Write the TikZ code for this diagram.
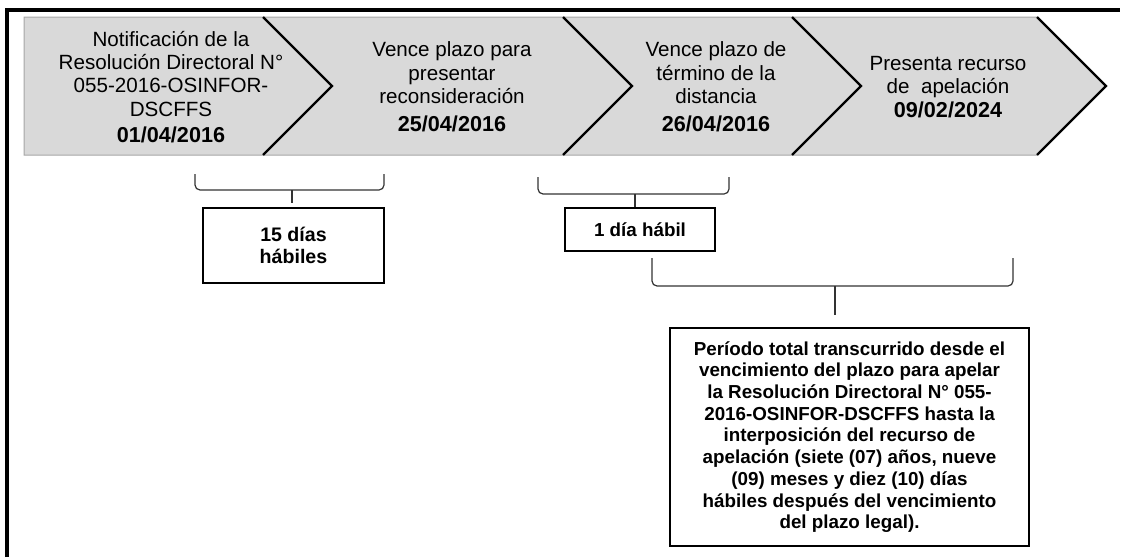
\documentclass[tikz,border=0pt]{standalone}
\usepackage{fontspec}
\setmainfont{Liberation Sans}
\usepackage{xcolor}
\usetikzlibrary{positioning}

\definecolor{grisbanda}{HTML}{D9D9D9}
\definecolor{bordebanda}{HTML}{A6A6A6}

\newcommand{\fecha}[1]{{\bfseries\fontsize{10.8}{11.6}\selectfont #1}}

\begin{document}
\begin{tikzpicture}[
        x=0.5pt, y=-0.5pt,
        font=\fontsize{10.3}{11.6}\selectfont,
        etapa/.style={align=center, inner sep=0pt},
        caja/.style={draw, line width=1pt, align=center, inner sep=0pt,
            font=\bfseries\fontsize{9.4}{10.85}\selectfont},
        punta/.style={line width=1.2pt, line join=miter},
        llave/.style={draw=black!80, line width=0.6pt, rounded corners=2.5pt},
        marco/.style={line width=2pt}
    ]
    \useasboundingbox (0,0) rectangle (1123,557);

    % MARCO
    \draw[marco] (7,557) -- (7,9.5) -- (1120,9.5);

    % BANDA DE ETAPAS
    \filldraw[fill=grisbanda, draw=bordebanda, line width=0.5pt]
        (24,17) -- (1037,17) -- (1106,86) -- (1037,155) -- (24,155) -- cycle;
    \foreach \px in {263,563,792,1037}
        \draw[punta] (\px,17) -- ++(69,69) -- ++(-69,69);

    % ETAPAS
    \node[etapa] (notif) at (171,87) {Notificación de la\\ Resolución Directoral N°\\ 055-2016-OSINFOR-\\ DSCFFS\\[1.5pt] \fecha{01/04/2016}};
    \node[etapa] (vence) at (452,87) {Vence plazo para\\ presentar\\ reconsideración\\[2.5pt] \fecha{25/04/2016}};
    \node[etapa] (distancia) at (716,87) {Vence plazo de\\ término de la\\ distancia\\[2.5pt] \fecha{26/04/2016}};
    \node[etapa] (apelacion) at (948,87) {Presenta recurso\\ de\ \ apelación\\ \fecha{09/02/2024}};

    % PLAZOS
    \node[caja, minimum width=90.5pt, minimum height=37.5pt,
        font=\bfseries\fontsize{9.8}{10.85}\selectfont] (quince) at (293.5,245.5) {15 días\\ hábiles};
    \node[caja, minimum width=75pt, minimum height=21.5pt] (undia) at (640,229.5) {1 día hábil};
    \node[caja, line width=0.9pt, minimum width=179.5pt, minimum height=109pt] (periodo) at (849.5,437)
        {Período total transcurrido desde el\\ vencimiento del plazo para apelar\\ la Resolución Directoral N° 055-\\ 2016-OSINFOR-DSCFFS hasta la\\ interposición del recurso de\\ apelación (siete (07) años, nueve\\ (09) meses y diez (10) días\\ hábiles después del vencimiento\\ del plazo legal).};

    % LLAVES
    \coordinate (l1) at (292,190);
    \coordinate (l2) at (635,194);
    \coordinate (l3) at (835,286);
    \draw[llave] (195,174) |- (l1) -| (384,174);
    \draw[llave] (538,177) |- (l2) -| (729,177);
    \draw[llave] (652,258) |- (l3) -| (1013,258);
    \draw[llave, shorten >=2pt] (l1) -- (l1 |- quince.north);
    \draw[llave] (l2) -- (l2 |- undia.north);
    \draw[llave, shorten >=6pt] (l3) -- (l3 |- periodo.north);

\end{tikzpicture}
\end{document}
